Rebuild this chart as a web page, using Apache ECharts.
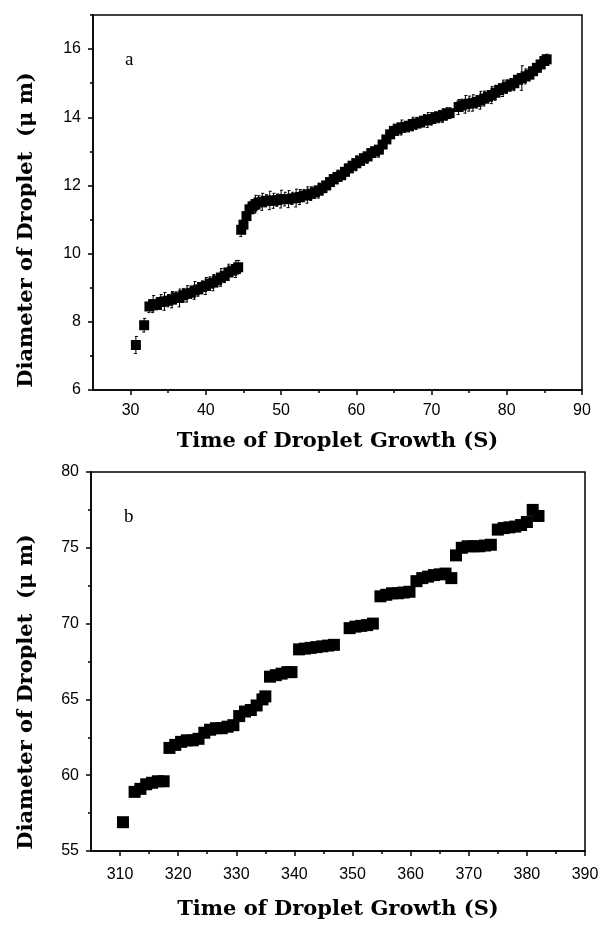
<!DOCTYPE html>
<html><head><meta charset="utf-8">
<script src="https://cdn.jsdelivr.net/npm/echarts@6/dist/echarts.min.js"></script>
<style>html,body{margin:0;padding:0;background:#fff}#c{width:605px;height:927px}</style>
</head><body><div id="c"></div>
<script>
// Panel a
const timeA = [30.7,31.8,32.5,33.0,33.5,34.0,34.5,35.0,35.5,36.0,36.5,37.0,37.5,38.0,38.5,39.0,39.5,40.0,40.5,41.0,41.5,42.0,42.5,43.0,43.5,44.0,44.3,
  44.7,45.0,45.4,45.8,46.2,46.6,47.0,47.5,48.0,48.5,49.0,49.5,50.0,50.5,51.0,51.5,52.0,52.5,53.0,53.5,54.0,54.5,55.0,55.5,56.0,56.5,57.0,57.5,58.0,58.5,59.0,59.5,60.0,60.5,61.0,61.5,62.0,62.5,63.0,63.5,64.0,64.5,65.0,65.5,66.0,66.5,67.0,67.5,68.0,68.5,69.0,69.5,70.0,70.5,71.0,71.5,72.0,72.4,
  73.6,74.0,74.5,75.0,75.5,76.0,76.5,77.0,77.5,78.0,78.5,79.0,79.5,80.0,80.5,81.0,81.5,82.0,82.5,83.0,83.5,84.0,84.5,85.0,85.3];
const diamA = [7.32,7.9,8.45,8.52,8.5,8.58,8.6,8.62,8.65,8.72,8.7,8.78,8.82,8.85,8.92,8.95,9.02,9.05,9.12,9.15,9.22,9.3,9.35,9.45,9.5,9.55,9.6,
  10.7,10.85,11.1,11.3,11.38,11.45,11.5,11.52,11.55,11.56,11.55,11.57,11.6,11.6,11.6,11.62,11.63,11.66,11.7,11.72,11.76,11.8,11.85,11.92,12.0,12.1,12.18,12.25,12.3,12.4,12.5,12.58,12.65,12.72,12.8,12.85,12.95,13.0,13.05,13.2,13.35,13.5,13.6,13.65,13.7,13.72,13.75,13.8,13.82,13.85,13.9,13.92,13.95,14.0,14.02,14.05,14.1,14.12,
  14.3,14.35,14.38,14.4,14.42,14.45,14.5,14.55,14.6,14.65,14.72,14.8,14.85,14.9,14.95,15.0,15.1,15.15,15.2,15.25,15.35,15.45,15.55,15.65,15.7];
const errA = [0.25,0.2,0.18,0.25,0.15,0.22,0.26,0.18,0.24,0.16,0.26,0.2,0.24,0.15,0.26,0.2,0.18,0.25,0.2,0.24,0.16,0.26,0.2,0.24,0.18,0.25,0.2,
  0.2,0.15,0.18,0.22,0.2,0.26,0.2,0.25,0.18,0.27,0.22,0.18,0.26,0.2,0.25,0.18,0.26,0.22,0.18,0.24,0.2,0.18,0.22,0.2,0.16,0.22,0.18,0.2,0.16,0.22,0.18,0.2,0.22,0.16,0.18,0.2,0.18,0.16,0.22,0.18,0.2,0.16,0.2,0.18,0.22,0.16,0.18,0.2,0.18,0.16,0.18,0.22,0.18,0.16,0.18,0.2,0.18,0.16,
  0.22,0.18,0.26,0.22,0.24,0.18,0.26,0.22,0.18,0.25,0.22,0.18,0.24,0.2,0.18,0.22,0.18,0.36,0.22,0.18,0.2,0.18,0.16,0.18,0.15];
// Panel b
const timeB = [310.5,312.5,313.5,314.5,315.5,316.5,317.5,318.5,319.5,320.5,321.5,322.5,323.5,324.5,325.5,326.5,327.5,328.5,329.5,330.5,331.5,332.5,333.5,334.5,335.0,
  335.8,336.8,337.8,338.8,339.5,340.8,341.8,342.8,343.8,344.8,345.8,346.8,349.5,350.5,351.5,352.5,353.5,354.8,355.8,356.8,357.8,358.8,359.8,361.0,362.0,363.0,364.0,365.0,366.0,367.0,
  367.8,368.8,369.8,370.8,371.8,372.8,373.8,375.0,376.0,377.0,378.0,379.0,380.0,381.0,382.0];
const diamB = [56.9,58.9,59.1,59.4,59.5,59.6,59.6,61.8,62.0,62.2,62.3,62.3,62.4,62.8,63.0,63.1,63.1,63.2,63.3,63.9,64.2,64.3,64.6,65.0,65.2,
  66.5,66.6,66.7,66.8,66.8,68.3,68.35,68.4,68.45,68.5,68.55,68.6,69.7,69.8,69.85,69.9,70.0,71.8,71.9,72.0,72.0,72.05,72.1,72.8,73.0,73.1,73.2,73.25,73.3,73.0,
  74.5,75.0,75.1,75.1,75.1,75.15,75.2,76.2,76.3,76.35,76.4,76.5,76.7,77.5,77.1];

const xMajorA = [30,40,50,60,70,80,90];
const xMinorA = [35,45,55,65,75,85];
const yMajorA = [6,8,10,12,14,16];
const yMinorA = [7,9,11,13,15,17];
const xMajorB = [310,320,330,340,350,360,370,380,390];
const xMinorB = [315,325,335,345,355,365,375,385];
const yMajorB = [55,60,65,70,75,80];
const yMinorB = [57.5,62.5,67.5,72.5,77.5];

const xTitle = 'Time of Droplet Growth (S)';
const yTitle = 'Diameter of Droplet  (\u03bc m)';

const grids = [
  {left:93, top:15, width:489, height:375},
  {left:91, top:472, width:494, height:379}
];
const titleFont = 'bold 21px "DejaVu Serif"';
const sans = 'Liberation Sans';
const lineStyle = {color:'#000', width:1.5};

function mainX(gi, min, max, major, margin, gap){
  return {gridIndex:gi, type:'value', position:'bottom', min:min, max:max,
    axisLine:{show:true, onZero:false, lineStyle:lineStyle},
    axisTick:{show:true, inside:false, length:5, lineStyle:{color:'#000', width:1.5}, customValues:major},
    axisLabel:{customValues:major, color:'#000', fontFamily:sans, fontSize:16, margin:margin},
    splitLine:{show:false},
    name:xTitle, nameLocation:'middle', nameGap:gap,
    nameTextStyle:{fontFamily:'DejaVu Serif', fontWeight:'bold', fontSize:21, color:'#000'}};
}
function minorX(gi, min, max, minor, h){
  return {gridIndex:gi, type:'value', position:'top', offset:-h, min:min, max:max,
    axisLine:{show:false},
    axisTick:{show:true, inside:true, length:3, lineStyle:{color:'#000', width:1.5}, customValues:minor},
    axisLabel:{show:false}, splitLine:{show:false}};
}
function mainY(gi, min, max, major){
  return {gridIndex:gi, type:'value', position:'left', min:min, max:max,
    axisLine:{show:true, onZero:false, lineStyle:lineStyle},
    axisTick:{show:true, inside:false, length:5, lineStyle:{color:'#000', width:1.5}, customValues:major},
    axisLabel:{customValues:major, color:'#000', fontFamily:sans, fontSize:16, margin:12},
    splitLine:{show:false}};
}
function minorY(gi, min, max, minor, w){
  return {gridIndex:gi, type:'value', position:'right', offset:-w, min:min, max:max,
    axisLine:{show:false},
    axisTick:{show:true, inside:true, length:3, lineStyle:{color:'#000', width:1.5}, customValues:minor},
    axisLabel:{show:false}, splitLine:{show:false}};
}

const chart = echarts.init(document.getElementById('c'), null, {renderer:'canvas'});
chart.setOption({
  animation:false,
  backgroundColor:'#fff',
  grid: grids.map(g => Object.assign({show:true, borderColor:'#000', borderWidth:1.5, backgroundColor:'transparent'}, g)),
  xAxis:[
    mainX(0,25,90,xMajorA,13,41), minorX(0,25,90,xMinorA,grids[0].height),
    mainX(1,305,390,xMajorB,16,48), minorX(1,305,390,xMinorB,grids[1].height)
  ],
  yAxis:[
    mainY(0,6,17,yMajorA), minorY(0,6,17,yMinorA,grids[0].width),
    mainY(1,55,80,yMajorB), minorY(1,55,80,yMinorB,grids[1].width)
  ],
  graphic:[
    {type:'text', x:27, y:230, rotation:Math.PI/2, style:{text:yTitle, font:titleFont, fill:'#000', align:'center', verticalAlign:'middle'}},
    {type:'text', x:27, y:692, rotation:Math.PI/2, style:{text:yTitle, font:titleFont, fill:'#000', align:'center', verticalAlign:'middle'}},
    {type:'text', left:125, top:51, style:{text:'a', font:'19px "Liberation Serif"', fill:'#000'}},
    {type:'text', left:124, top:508, style:{text:'b', font:'19px "Liberation Serif"', fill:'#000'}}
  ],
  series:[
    {type:'custom', xAxisIndex:0, yAxisIndex:0, z:1,
      renderItem:function(params, api){
        const x = api.value(0), y = api.value(1), e = api.value(2);
        const lo = api.coord([x, y - e]), hi = api.coord([x, y + e]);
        const st = {stroke:'#000', lineWidth:1};
        return {type:'group', children:[
          {type:'line', shape:{x1:lo[0], y1:lo[1], x2:hi[0], y2:hi[1]}, style:st},
          {type:'line', shape:{x1:lo[0]-2, y1:lo[1], x2:lo[0]+1, y2:lo[1]}, style:st},
          {type:'line', shape:{x1:hi[0]-1, y1:hi[1], x2:hi[0]+2, y2:hi[1]}, style:st}
        ]};
      },
      data: timeA.map((t,i)=>[t, diamA[i], errA[i]])},
    {type:'scatter', xAxisIndex:0, yAxisIndex:0, z:2, symbol:'rect', symbolSize:10,
      itemStyle:{color:'#000', opacity:1}, data: timeA.map((t,i)=>[t, diamA[i]])},
    {type:'scatter', xAxisIndex:2, yAxisIndex:2, symbol:'rect', symbolSize:12,
      itemStyle:{color:'#000', opacity:1}, data: timeB.map((t,i)=>[t, diamB[i]])}
  ]
});
</script></body></html>
